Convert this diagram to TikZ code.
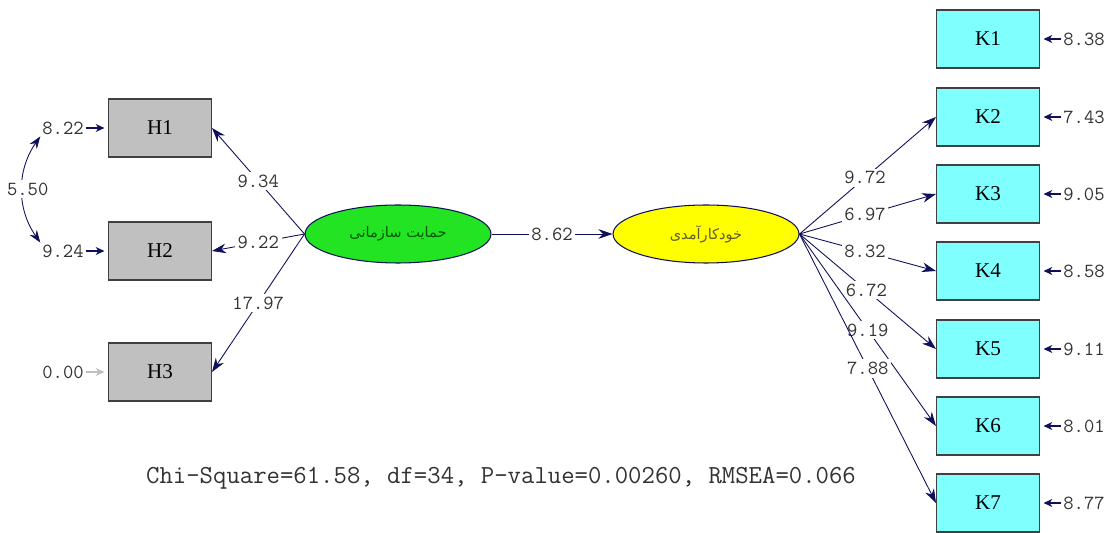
\documentclass[tikz,border=0pt]{standalone}
\usepackage{fontspec}
\setmainfont{Liberation Serif}
\newfontfamily\arabicfont[Script=Arabic]{DejaVu Sans}
\TeXXeTstate=1
\usepackage{tikz}
\usetikzlibrary{shapes.geometric,arrows.meta}
\definecolor{lnavy}{RGB}{16,16,90}
\definecolor{boxgray}{RGB}{192,192,192}
\definecolor{kcyan}{RGB}{128,255,255}
\definecolor{latgreen}{RGB}{34,228,34}
\definecolor{latyellow}{RGB}{255,255,0}
\definecolor{numgray}{RGB}{50,50,50}

\begin{document}
\begin{tikzpicture}[x=0.02cm,y=-0.02cm,
        obs/.style={draw=black!75,line width=0.6pt,minimum width=2.06cm,minimum height=1.16cm,inner sep=0pt,font=\fontsize{12}{14}\selectfont},
        hbox/.style={obs,fill=boxgray},
        kbox/.style={obs,fill=kcyan},
        lat/.style={ellipse,draw=lnavy,line width=0.6pt,minimum width=3.72cm,minimum height=1.16cm,inner sep=0pt,font=\arabicfont\fontsize{8.3}{10}\selectfont},
        num/.style={font=\ttfamily\fontsize{11.4}{13}\selectfont,text=numgray,inner sep=1pt},
        lbl/.style={num,fill=white,inner sep=1.5pt},
        load/.style={lnavy,line width=0.5pt,-{Stealth[length=8pt,width=5.5pt]}},
        err/.style={lnavy,line width=1.3pt,-{Stealth[length=5pt,width=4.5pt]},shorten >=2pt},
        cov/.style={lnavy,line width=0.5pt,{Stealth[length=7pt,width=5pt]}-{Stealth[length=7pt,width=5pt]}}]
        \useasboundingbox (0,0) rectangle (1110,533);
        \fill[white] (0,0) rectangle (1110,533);
        % observed variables, left
        \node[hbox] (h1) at (160,128) {H1};
        \node[hbox] (h2) at (160,251) {H2};
        \node[hbox] (h3) at (160,372) {H3};
        % latent variables
        \node[lat,fill=latgreen,text=green!35!black] (sup) at (398,234) {\beginR حمایت سازمانی\endR};
        \node[lat,fill=latyellow,text=olive!60!black] (eff) at (706,234) {\beginR خودکارآمدی\endR};
        % observed variables, right
        \node[kbox] (k1) at (988,39) {K1};
        \node[kbox] (k2) at (988,117) {K2};
        \node[kbox] (k3) at (988,194) {K3};
        \node[kbox] (k4) at (988,271) {K4};
        \node[kbox] (k5) at (988,349) {K5};
        \node[kbox] (k6) at (988,426) {K6};
        \node[kbox] (k7) at (988,503) {K7};
        % error terms
        \node[num] (e1) at (63,128) {8.22};
        \node[num] (e2) at (63,251) {9.24};
        \node[num] (e3) at (63,372) {0.00};
        \node[num] (d1) at (1084,39) {8.38};
        \node[num] (d2) at (1084,117) {7.43};
        \node[num] (d3) at (1084,194) {9.05};
        \node[num] (d4) at (1084,271) {8.58};
        \node[num] (d5) at (1084,349) {9.11};
        \node[num] (d6) at (1084,426) {8.01};
        \node[num] (d7) at (1084,503) {8.77};
        \draw[err] (e1) -- (h1);
        \draw[err] (e2) -- (h2);
        \draw[err,gray!50] (e3) -- (h3);
        \draw[err] (d1) -- (k1);
        \draw[err] (d2) -- (k2);
        \draw[err] (d3) -- (k3);
        \draw[err] (d4) -- (k4);
        \draw[err] (d5) -- (k5);
        \draw[err] (d6) -- (k6);
        \draw[err] (d7) -- (k7);
        \draw[cov] (e1.south west) to[bend right=35] node[lbl,xshift=3] {5.50} (e2.north west);
        % loadings
        \draw[load] (sup.west) -- node[lbl] {9.34} (h1.east);
        \draw[load] (sup.west) -- node[lbl] {9.22} (h2.east);
        \draw[load] (sup.west) -- node[lbl] {17.97} (h3.east);
        \draw[load] (sup) -- node[lbl] {8.62} (eff);
        \draw[load] (eff.east) -- node[lbl,pos=0.48] {9.72} (k2.west);
        \draw[load] (eff.east) -- node[lbl,pos=0.48] {6.97} (k3.west);
        \draw[load] (eff.east) -- node[lbl,pos=0.48] {8.32} (k4.west);
        \draw[load] (eff.east) -- node[lbl,pos=0.49] {6.72} (k5.west);
        \draw[load] (eff.east) -- node[lbl,pos=0.5] {9.19} (k6.west);
        \draw[load] (eff.east) -- node[lbl,pos=0.5] {7.88} (k7.west);
        % fit indices
        \node[font=\ttfamily\fontsize{14.8}{16}\selectfont,text=numgray] (fit) at (501,478) {Chi-Square=61.58, df=34, P-value=0.00260, RMSEA=0.066};
\end{tikzpicture}
\end{document}
